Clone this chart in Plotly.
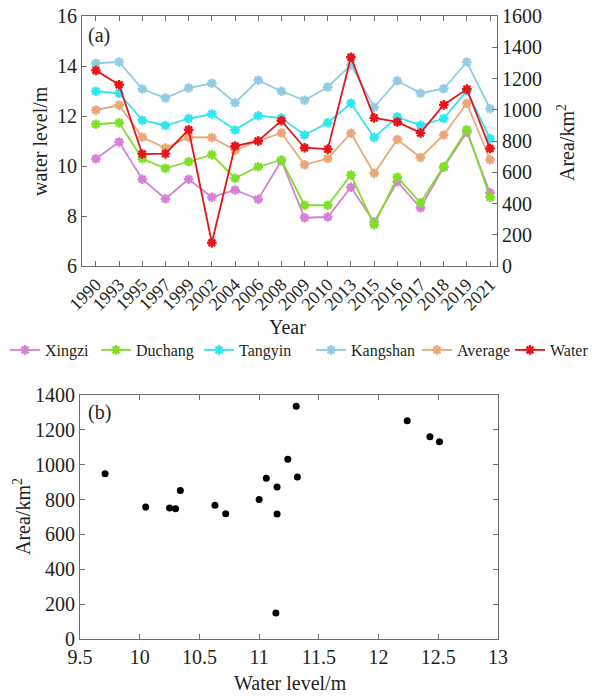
import plotly.graph_objects as go

years = ['1990', '1993', '1995', '1997', '1999', '2002', '2004', '2006', '2008',
         '2009', '2010', '2013', '2015', '2016', '2017', '2018', '2019', '2021']
xingzi = [10.29, 10.96, 9.47, 8.69, 9.47, 8.75, 9.04, 8.67, 10.21, 7.93, 7.96,
          9.15, 7.76, 9.37, 8.33, 9.95, 11.35, 8.93]
duchang = [11.67, 11.73, 10.29, 9.91, 10.17, 10.45, 9.51, 9.97, 10.24, 8.43, 8.43,
           9.64, 7.65, 9.55, 8.53, 9.97, 11.45, 8.75]
tangyin = [12.99, 12.91, 11.83, 11.62, 11.90, 12.08, 11.44, 12.01, 11.92, 11.24, 11.73,
           12.51, 11.14, 11.96, 11.63, 11.90, 13.01, 11.09]
kangshan = [14.11, 14.16, 13.08, 12.72, 13.12, 13.31, 12.53, 13.43, 12.99, 12.63, 13.16,
            14.04, 12.35, 13.41, 12.91, 13.09, 14.16, 12.29]
average = [12.24, 12.43, 11.15, 10.72, 11.15, 11.14, 10.63, 11.00, 11.32, 10.05, 10.30,
           11.31, 9.71, 11.06, 10.34, 11.24, 12.51, 10.25]
water_area = [1252, 1160, 717, 719, 872, 149, 768, 800, 930, 757, 748,
              1336, 948, 922, 852, 1031, 1132, 752]

series = [
    ('Xingzi', xingzi, '#d680d6'),
    ('Duchang', duchang, '#7fe028'),
    ('Tangyin', tangyin, '#30e6ee'),
    ('Kangshan', kangshan, '#92cce2'),
    ('Average', average, '#eaa878'),
]

FONT = 'Liberation Serif'
TXT = '#231f20'
AXC = '#6e6e6e'
W, H = 592, 696

# text start (px) of each legend entry in the reference
legend_text_x = [46, 137, 240, 352, 458, 551]
TEXT_OFFSET = 41
legend_names = ['legend', 'legend2', 'legend3', 'legend4', 'legend5', 'legend6']

fig = go.Figure()
for i, (name, vals, col) in enumerate(series):
    fig.add_trace(go.Scatter(
        x=years, y=vals, name=name, mode='lines+markers', legend=legend_names[i],
        line=dict(color=col, width=1.8),
        marker=dict(symbol='asterisk', size=8, color=col, line=dict(color=col, width=2.4)),
        xaxis='x', yaxis='y'))
fig.add_trace(go.Scatter(
    x=years, y=water_area, name='Water', mode='lines+markers', legend=legend_names[5],
    line=dict(color='#e8141a', width=1.8),
    marker=dict(symbol='asterisk', size=8, color='#e8141a', line=dict(color='#e8141a', width=2.4)),
    xaxis='x', yaxis='y2'))

fig.add_trace(go.Scatter(
    x=average, y=water_area, mode='markers', showlegend=False,
    marker=dict(symbol='circle', size=7, color='black'),
    xaxis='x2', yaxis='y3'))

top_x = [82 / W, 497 / W]
top_y = [1 - 266 / H, 1 - 16 / H]
bot_x = [80 / W, 498 / W]
bot_y = [1 - 639 / H, 1 - 395 / H]

tickfont = dict(family=FONT, size=20, color=TXT)
common = dict(showline=True, linecolor=AXC, linewidth=1, ticks='inside', ticklen=5,
              tickcolor=AXC, showgrid=False, zeroline=False, automargin=False)


def label(text, x, y, angle=0, size=20):
    return dict(text=text, x=x / W, y=1 - y / H, xref='paper', yref='paper',
                xanchor='center', yanchor='middle', showarrow=False, textangle=angle,
                font=dict(family=FONT, size=size, color=TXT))


layout = dict(
    width=W, height=H,
    margin=dict(l=0, r=0, t=0, b=0, autoexpand=False),
    paper_bgcolor='white', plot_bgcolor='white',
    font=dict(family=FONT, color=TXT),
    hovermode=False,
    xaxis=dict(domain=top_x, type='category', range=[-0.6, 17.3], anchor='y',
               mirror='ticks', tickangle=-45,
               tickfont=dict(family=FONT, size=18, color=TXT), **common),
    yaxis=dict(domain=top_y, range=[6, 16], dtick=2, anchor='x',
               tickfont=tickfont, **common),
    yaxis2=dict(range=[0, 1600], dtick=200, overlaying='y', side='right', anchor='x',
                tickfont=tickfont, **common),
    xaxis2=dict(domain=bot_x, range=[9.5, 13], dtick=0.5, anchor='y3',
                mirror='ticks', tickfont=tickfont, **common),
    yaxis3=dict(domain=bot_y, range=[0, 1400], dtick=200, anchor='x2',
                mirror='ticks', tickfont=tickfont, **common),
    annotations=[
        dict(text='(a)', x=86 / W, y=1 - 35 / H, xref='paper', yref='paper',
             xanchor='left', yanchor='middle', showarrow=False,
             font=dict(family=FONT, size=20, color=TXT)),
        dict(text='(b)', x=86 / W, y=1 - 413 / H, xref='paper', yref='paper',
             xanchor='left', yanchor='middle', showarrow=False,
             font=dict(family=FONT, size=20, color=TXT)),
        label('water level/m', 40, 141, -90),
        label('Area/km<sup>2</sup>', 566, 143, -90),
        label('Year', 287, 327),
        label('Area/km<sup>2</sup>', 22, 517, -90),
        label('Water level/m', 290, 683),
    ],
)
for i, ln in enumerate(legend_names):
    layout[ln] = dict(orientation='h', x=(legend_text_x[i] - TEXT_OFFSET) / W, xanchor='left',
                      y=1 - 350 / H, yanchor='middle',
                      font=dict(family=FONT, size=16, color=TXT),
                      bgcolor='rgba(0,0,0,0)', itemwidth=30)
fig.update_layout(**layout)

fig.write_html('out.html',
               config={'displayModeBar': False, 'staticPlot': True},
               post_script="document.body.style.margin='0px';"
                           "document.body.style.overflow='hidden';")
